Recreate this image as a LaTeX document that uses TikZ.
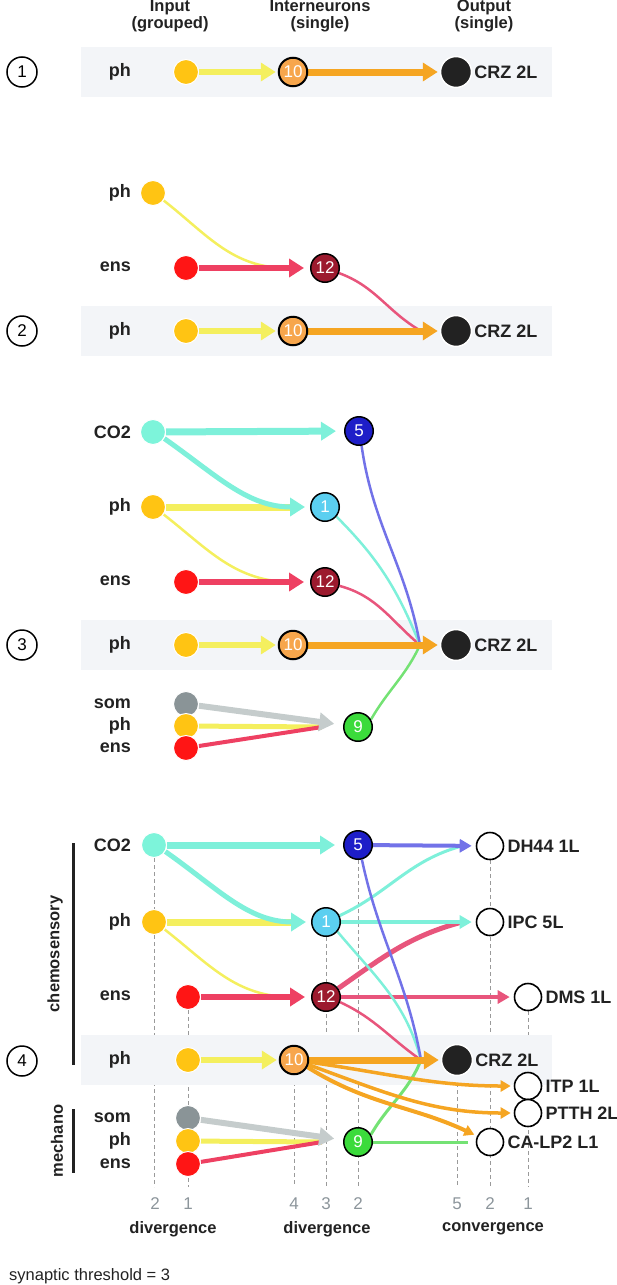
\documentclass[tikz,border=0pt]{standalone}
\usepackage{fontspec}
\setmainfont{Liberation Sans}
\usetikzlibrary{arrows.meta}
\pgfdeclarelayer{back}
\pgfdeclarelayer{edge}
\pgfsetlayers{back,edge,main}
\definecolor{cyel}{HTML}{FFC413}
\definecolor{cred}{HTML}{FF1515}
\definecolor{ccyan}{HTML}{7DF4DA}
\definecolor{cgray}{HTML}{8A9497}
\definecolor{lyel}{HTML}{F4EF5E}
\definecolor{lred}{HTML}{EE4062}
\definecolor{lpink}{HTML}{E8557C}
\definecolor{lcyan}{HTML}{7EF0DA}
\definecolor{lblue}{HTML}{7272E8}
\definecolor{lgreen}{HTML}{74E274}
\definecolor{lorg}{HTML}{F5A522}
\definecolor{lgray}{HTML}{C5CCCC}
\definecolor{corg}{HTML}{F7A64C}
\definecolor{cdred}{HTML}{9C1A2E}
\definecolor{cblue}{HTML}{1E1EC8}
\definecolor{clblue}{HTML}{5BCFF0}
\definecolor{cgreen}{HTML}{3BDB3B}
\definecolor{cblk}{HTML}{222222}
\definecolor{cband}{HTML}{F3F5F8}
\definecolor{ctxt}{HTML}{222222}
\definecolor{cnum}{HTML}{8C959B}
\definecolor{cdash}{HTML}{9A9A9A}
\begin{document}
\begin{tikzpicture}[x=1pt,y=-1pt,
 inp/.style={circle,minimum size=25pt,inner sep=0pt,draw=white,line width=1pt},
 inter/.style={circle,minimum size=28.5pt,inner sep=0pt,draw=black,line width=1.5pt,text=white,font=\fontsize{17}{17}\selectfont},
 outb/.style={circle,minimum size=31pt,inner sep=0pt,fill=cblk,draw=white,line width=1.5pt},
 outw/.style={circle,minimum size=27pt,inner sep=0pt,fill=white,draw=black,line width=1.6pt},
 pnum/.style={circle,minimum size=30pt,inner sep=0pt,draw=black,line width=1.5pt,fill=white,font=\fontsize{17}{17}\selectfont},
 ilab/.style={anchor=east,inner sep=0pt,text=ctxt,font=\bfseries\fontsize{18}{18}\selectfont},
 olab/.style={anchor=west,inner sep=0pt,text=ctxt,font=\bfseries\fontsize{18}{18}\selectfont},
 hdr/.style={align=center,inner sep=0pt,text=ctxt,font=\bfseries\fontsize{16.5}{17}\selectfont},
 numl/.style={inner sep=0pt,text=cnum,font=\fontsize{17}{17}\selectfont},
 band/.style={fill=cband,draw=none},
 dsh/.style={draw=cdash,line width=0.8pt,dash pattern=on 4pt off 3pt},
 bigtip/.style={-{Triangle[length=15pt,width=18pt]}},
 midtip/.style={-{Triangle[length=12pt,width=13pt]}},
 smtip/.style={-{Triangle[length=10pt,width=11pt]}},
 ]
\useasboundingbox (0,0) rectangle (617,1285);

% ---------- header ----------
\node[hdr] (hIn) at (170,16) {Input\\(grouped)};
\node[hdr] (hInt) at (320,16) {Interneurons\\(single)};
\node[hdr] (hOut) at (484,16) {Output\\(single)};

% ---------- panel 1 ----------
\node[pnum] (p1) at (22,72) {1};
\node[ilab] (l1ph) at (131,72) {ph};
\node[inp,fill=cyel] (a1ph) at (186,72) {};
\node[inter,fill=corg,line width=2pt] (a1n10) at (293,72) {10};
\node[outb] (a1crz) at (456,72) {};
\node[olab] (a1crzl) at ([xshift=2pt]a1crz.east) {CRZ 2L};

% ---------- panel 2 ----------
\node[ilab] (l2ph0) at (131,193) {ph};
\node[inp,fill=cyel] (a2ph0) at (153,193) {};
\node[ilab] (l2ens) at (131,267) {ens};
\node[inp,fill=cred] (a2ens) at (186,268) {};
\node[inter,fill=cdred] (a2n12) at (325,268) {12};
\node[pnum] (p2) at (22,331) {2};
\node[ilab] (l2ph) at (131,331) {ph};
\node[inp,fill=cyel] (a2ph) at (186,331) {};
\node[inter,fill=corg,line width=2pt] (a2n10) at (293,331) {10};
\node[outb] (a2crz) at (456,331) {};
\node[olab] (a2crzl) at ([xshift=2pt]a2crz.east) {CRZ 2L};
\coordinate (m2a) at (287,268);
\coordinate (m2b) at (421,331);

% ---------- panel 3 ----------
\node[ilab] (l3co2) at (131,432) {CO2};
\node[inp,fill=ccyan] (a3co2) at (153,432) {};
\node[inter,fill=cblue] (a3n5) at (359,431) {5};
\node[ilab] (l3ph) at (131,507) {ph};
\node[inp,fill=cyel] (a3ph) at (153,507) {};
\node[inter,fill=clblue] (a3n1) at (325,507) {1};
\node[ilab] (l3ens) at (131,581) {ens};
\node[inp,fill=cred] (a3ens) at (186,582) {};
\node[inter,fill=cdred] (a3n12) at (325,582) {12};
\node[pnum] (p3) at (22,645) {3};
\node[ilab] (l3php) at (131,645) {ph};
\node[inp,fill=cyel] (a3php) at (186,645) {};
\node[inter,fill=corg,line width=2pt] (a3n10) at (293,645) {10};
\node[outb] (a3crz) at (456,645) {};
\node[olab] (a3crzl) at ([xshift=2pt]a3crz.east) {CRZ 2L};
\node[ilab] (l3som) at (131,704) {som};
\node[ilab] (l3ph2) at (131,726) {ph};
\node[ilab] (l3ens2) at (131,748) {ens};
\node[inp,fill=cgray] (a3som) at (186,704) {};
\node[inp,fill=cyel] (a3ph2) at (186,726) {};
\node[inp,fill=cred] (a3ens2) at (186,748) {};
\node[inter,fill=cgreen] (a3n9) at (358,727) {9};
\coordinate (m3a) at (292,582);
\coordinate (m3b) at (420,645);
\coordinate (m3c) at (322,727);

% ---------- panel 4 ----------
\node[ilab] (l4co2) at (131,845) {CO2};
\node[inp,fill=ccyan] (a4co2) at (154,845) {};
\node[inter,fill=cblue] (a4n5) at (358,845) {5};
\node[outw] (a4dh) at (490,846) {};
\node[olab] (a4dhl) at ([xshift=3pt]a4dh.east) {DH44 1L};
\node[ilab] (l4ph) at (131,922) {ph};
\node[inp,fill=cyel] (a4ph) at (154,922) {};
\node[inter,fill=clblue] (a4n1) at (326,922) {1};
\node[outw] (a4ipc) at (490,922) {};
\node[olab] (a4ipcl) at ([xshift=3pt]a4ipc.east) {IPC 5L};
\node[ilab] (l4ens) at (131,996) {ens};
\node[inp,fill=cred] (a4ens) at (188,997) {};
\node[inter,fill=cdred] (a4n12) at (326,997) {12};
\node[outw] (a4dms) at (528,997) {};
\node[olab] (a4dmsl) at ([xshift=3pt]a4dms.east) {DMS 1L};
\node[pnum] (p4) at (22,1061) {4};
\node[ilab] (l4php) at (131,1060) {ph};
\node[inp,fill=cyel] (a4php) at (188,1060) {};
\node[inter,fill=corg,line width=2pt] (a4n10) at (294,1060) {10};
\node[outb] (a4crz) at (457,1060) {};
\node[olab] (a4crzl) at ([xshift=2pt]a4crz.east) {CRZ 2L};
\node[outw] (a4itp) at (528,1086) {};
\node[olab] (a4itpl) at ([xshift=3pt]a4itp.east) {ITP 1L};
\node[outw] (a4ptth) at (528,1113) {};
\node[olab] (a4ptthl) at ([xshift=3pt]a4ptth.east) {PTTH 2L};
\node[outw] (a4ca) at (490,1142) {};
\node[olab] (a4cal) at ([xshift=3pt]a4ca.east) {CA-LP2 L1};
\node[ilab] (l4som) at (131,1118) {som};
\node[ilab] (l4ph2) at (131,1141) {ph};
\node[ilab] (l4ens2) at (131,1164) {ens};
\node[inp,fill=cgray] (a4som) at (188,1118) {};
\node[inp,fill=cyel] (a4ph2) at (188,1141) {};
\node[inp,fill=cred] (a4ens2) at (188,1164) {};
\node[inter,fill=cgreen] (a4n9) at (358,1142) {9};
\coordinate (m4a) at (292,997);
\coordinate (m4b) at (421,1060);
\coordinate (m4c) at (322,1142);
\coordinate (m4d) at (462,846);
\coordinate (m4e) at (462,922);
\coordinate (m4f) at (468,1142);

% group labels
\node[rotate=90,inner sep=0pt,text=ctxt,font=\bfseries\fontsize{16.5}{16.5}\selectfont] (gchem) at (55,954) {chemosensory};
\node[rotate=90,inner sep=0pt,text=ctxt,font=\bfseries\fontsize{16.5}{16.5}\selectfont] (gmech) at (57,1141) {mechano};
\draw[line width=3pt,draw=ctxt] (73,843) -- (73,1065);
\draw[line width=3pt,draw=ctxt] (73,1109) -- (73,1173);

% bottom numbers and captions
\coordinate (bot) at (0,1187);
\node[numl] (c1) at (155,1204) {2};
\node[numl] (c2) at (188,1204) {1};
\node[numl] (c3) at (294,1204) {4};
\node[numl] (c4) at (326,1204) {3};
\node[numl] (c5) at (358,1204) {2};
\node[numl] (c6) at (457,1204) {5};
\node[numl] (c7) at (490,1204) {2};
\node[numl] (c8) at (528,1204) {1};
\node[hdr] (dv1) at (173,1229) {divergence};
\node[hdr] (dv2) at (327,1229) {divergence};
\node[hdr] (cv1) at (493,1229) {convergence};
\node[anchor=west,inner sep=0pt,text=ctxt,font=\fontsize{16.5}{16.5}\selectfont] (thr) at (9,1276) {synaptic threshold = 3};

% ---------- background: dashed guides and bands ----------
\begin{pgfonlayer}{back}
\draw[dsh] (a4co2.south) -- (a4co2 |- bot);
\draw[dsh] (a4ens.south) -- (a4ens |- bot);
\draw[dsh] (a4n10.south) -- (a4n10 |- bot);
\draw[dsh] (a4n1.south) -- (a4n1 |- bot);
\draw[dsh] (a4n5.south) -- (a4n5 |- bot);
\draw[dsh] (a4crz.south) -- (a4crz |- bot);
\draw[dsh] (a4dh.south) -- (a4dh |- bot);
\draw[dsh] (a4dms.south) -- (a4dms |- bot);
\fill[band] (81,47) rectangle (552,97);
\fill[band] (81,306) rectangle (552,356);
\fill[band] (81,620) rectangle (552,670);
\fill[band] (81,1035) rectangle (552,1085);
\end{pgfonlayer}

% ---------- edges ----------
\begin{pgfonlayer}{edge}
% panel 1
\draw[draw=lyel,line width=6pt,bigtip,shorten >=2pt] (a1ph) -- (a1n10);
\draw[draw=lorg,line width=7pt,bigtip,shorten >=2pt] (a1n10) -- (a1crz);
% panel 2
\draw[draw=lyel,line width=2.5pt] (a2ph0.-35) to[out=-38,in=180] (m2a);
\draw[draw=lred,line width=6pt,bigtip,shorten >=6pt] (a2ens) -- (a2n12);
\draw[draw=lpink,line width=2.5pt] (a2n12.-20) to[out=-20,in=150] (m2b);
\draw[draw=lyel,line width=6pt,bigtip,shorten >=2pt] (a2ph) -- (a2n10);
\draw[draw=lorg,line width=7pt,bigtip,shorten >=2pt] (a2n10) -- (a2crz);
% panel 3
\draw[draw=lyel,line width=2.5pt] (a3ph.-35) to[out=-38,in=180] (m3a);
\draw[draw=lred,line width=6pt,bigtip,shorten >=6pt] (a3ens) -- (a3n12);
\draw[draw=lyel,line width=7pt,shorten >=12pt] (a3ph) -- (a3n1);
\draw[draw=lcyan,line width=5pt,bigtip,shorten >=5pt] (a3co2.-30) to[out=-35,in=180] (a3n1);
\draw[draw=lcyan,line width=7pt,bigtip,shorten >=8pt] (a3co2) -- (a3n5);
\draw[draw=lpink,line width=2.5pt] (a3n12.-15) to[out=-15,in=140] (m3b);
\draw[draw=lcyan,line width=2.5pt] (a3n1.-40) to[out=-45,in=112] (m3b);
\draw[draw=lblue,line width=2.5pt] (a3n5.-80) to[out=-82,in=100] (m3b);
\draw[draw=lgreen,line width=2.5pt] (a3n9.30) to[out=60,in=-115] (m3b);
\draw[draw=lyel,line width=6pt,bigtip,shorten >=2pt] (a3php) -- (a3n10);
\draw[draw=lorg,line width=7pt,bigtip,shorten >=2pt] (a3n10) -- (a3crz);
\draw[draw=lyel,line width=5pt] (a3ph2) -- (m3c);
\draw[draw=lred,line width=4pt] (a3ens2) -- (m3c);
\draw[draw=lgray,line width=6pt,bigtip,shorten >=9pt] (a3som) -- (a3n9);
% panel 4
\draw[draw=lyel,line width=2.5pt] (a4ph.-35) to[out=-38,in=180] (m4a);
\draw[draw=lred,line width=6pt,bigtip,shorten >=6pt] (a4ens) -- (a4n12);
\draw[draw=lyel,line width=7pt,shorten >=12pt] (a4ph) -- (a4n1);
\draw[draw=lcyan,line width=5pt,bigtip,shorten >=5pt] (a4co2.-30) to[out=-35,in=180] (a4n1);
\draw[draw=lcyan,line width=7pt,bigtip,shorten >=8pt] (a4co2) -- (a4n5);
\draw[draw=lpink,line width=5pt] (a4n12.35) to[out=35,in=195] (m4e);
\draw[draw=lpink,line width=4pt,midtip,shorten >=4pt] (a4n12) -- (a4dms);
\draw[draw=lpink,line width=2.5pt] (a4n12.-20) to[out=-25,in=145] (m4b);
\draw[draw=lcyan,line width=3pt] (a4n1.25) to[out=25,in=195] (m4d);
\draw[draw=lcyan,line width=4pt,midtip,shorten >=4pt] (a4n1) -- (a4ipc);
\draw[draw=lcyan,line width=2.5pt] (a4n1.-40) to[out=-50,in=105] (m4b);
\draw[draw=lblue,line width=2.5pt] (a4n5.-75) to[out=-78,in=100] (m4b);
\draw[draw=lblue,line width=4pt,midtip,shorten >=4pt] (a4n5) -- (a4dh);
\draw[draw=lgreen,line width=3pt] (a4n9.30) to[out=60,in=-112] (m4b);
\draw[draw=lgreen,line width=3pt] (a4n9) -- (m4f);
\draw[draw=lyel,line width=6pt,bigtip,shorten >=2pt] (a4php) -- (a4n10);
\draw[draw=lorg,line width=3.5pt,smtip,shorten >=3pt] (a4n10.-8) to[out=-8,in=180] (a4itp);
\draw[draw=lorg,line width=3.5pt,smtip,shorten >=3pt] (a4n10.-18) to[out=-20,in=180] (a4ptth);
\draw[draw=lorg,line width=4pt,smtip,shorten >=3pt] (a4n10.-28) to[out=-32,in=155] (a4ca);
\draw[draw=lorg,line width=7pt,bigtip,shorten >=2pt] (a4n10) -- (a4crz);
\draw[draw=lyel,line width=5pt] (a4ph2) -- (m4c);
\draw[draw=lred,line width=4pt] (a4ens2) -- (m4c);
\draw[draw=lgray,line width=6pt,bigtip,shorten >=9pt] (a4som) -- (a4n9);
\end{pgfonlayer}
\end{tikzpicture}
\end{document}
